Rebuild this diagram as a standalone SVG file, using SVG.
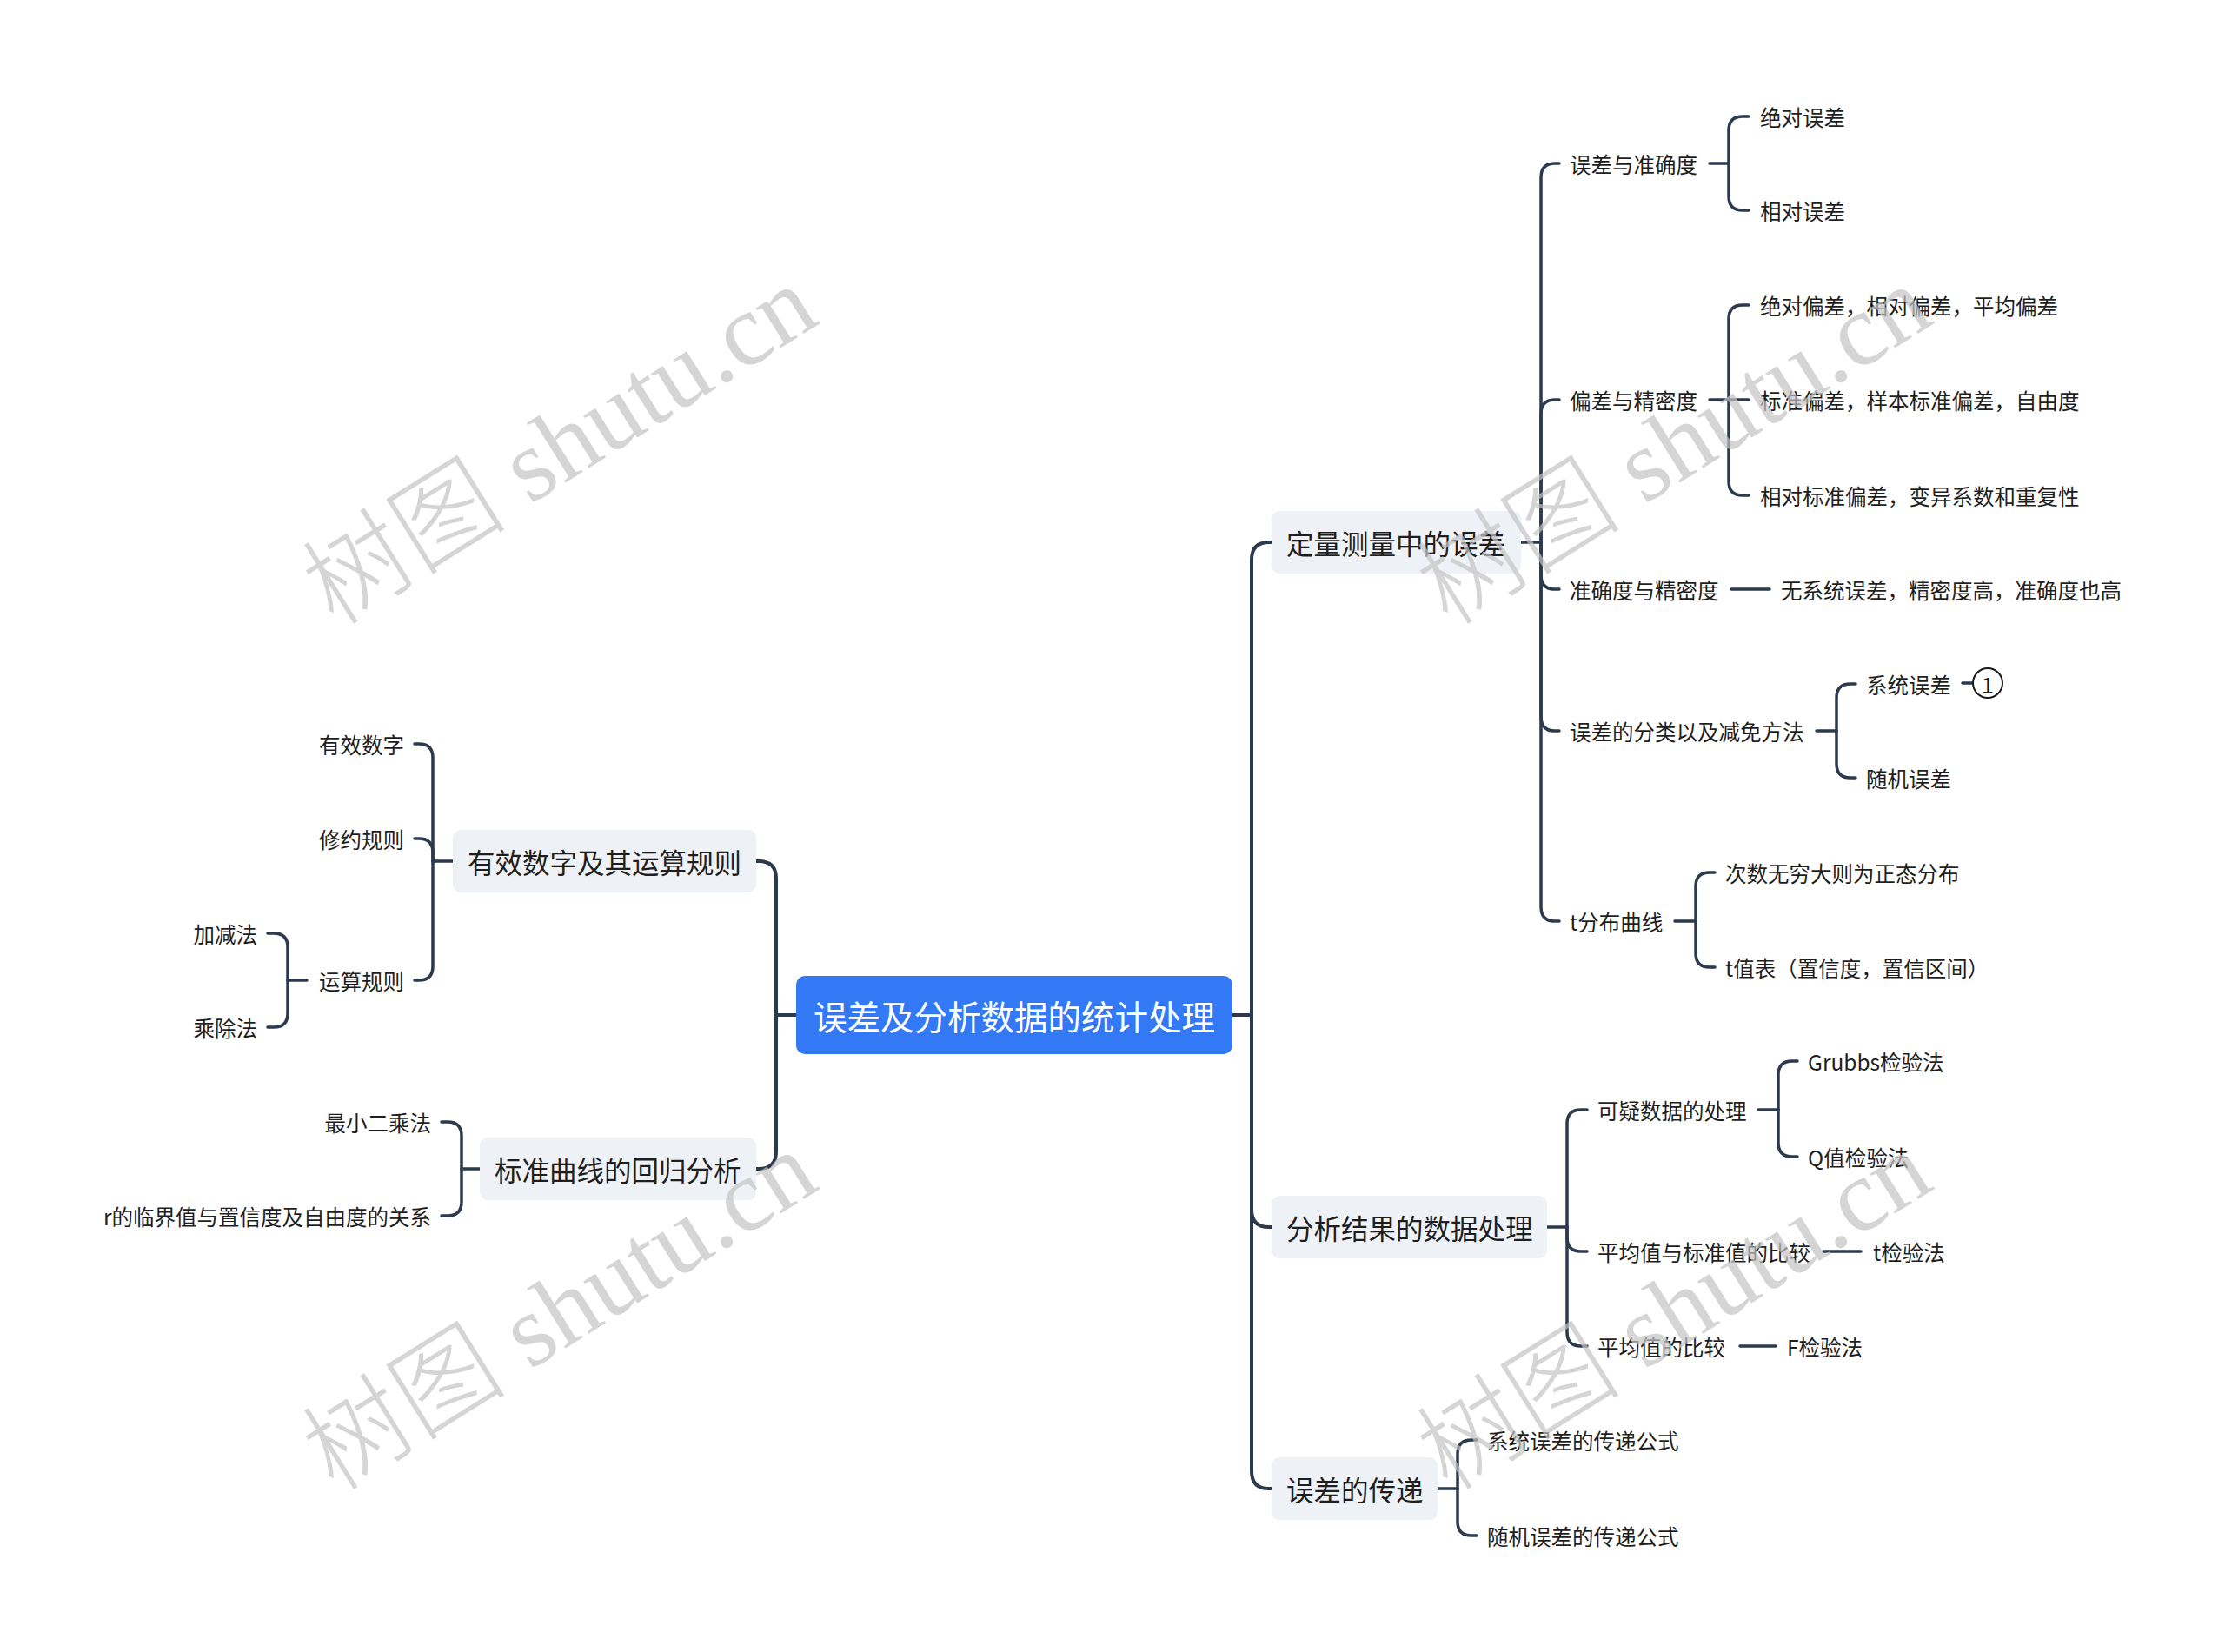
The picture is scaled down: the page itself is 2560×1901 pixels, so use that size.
<svg xmlns="http://www.w3.org/2000/svg" width="2560" height="1901" viewBox="0 0 2560 1901">
<style>
.bg{fill:#ffffff}
.root rect{fill:#3379f6}
.root text{fill:#ffffff;font-size:38.5px}
.l1 rect{fill:#eef1f5}
.l1 text{fill:#1e1e1e;font-size:31.5px}
.l2 text{fill:#1e1e1e;font-size:24.5px}
text{font-family:"Noto Sans CJK SC","Noto Sans",sans-serif;dominant-baseline:central}
.lnk path{fill:none;stroke:#2c3a4e;stroke-width:3.5;stroke-linecap:round}
.lnk .main{stroke-width:4}
.wm{font-family:"Liberation Serif","Noto Sans CJK SC",serif;font-size:118px;fill:#c4c4c4;opacity:0.7;dominant-baseline:auto;font-weight:300}
</style>
<rect class="bg" x="0" y="0" width="2560" height="1901"/>
<g id="connectors" class="lnk">
<path class="main" d="M1418,1168 H1440"/>
<path class="main" d="M1440,1168 V644 Q1440,624 1460,624 H1463"/>
<path class="main" d="M1440,1168 V1392 Q1440,1412 1460,1412 H1463"/>
<path class="main" d="M1440,1168 V1693 Q1440,1713 1460,1713 H1463"/>
<path class="main" d="M916,1168 H893"/>
<path class="main" d="M893,1168 V1011 Q893,991 873,991 H870"/>
<path class="main" d="M893,1168 V1325 Q893,1345 873,1345 H870"/>
<path d="M1750,624 H1773"/>
<path d="M1773,624 V204 Q1773,188 1789,188 H1794"/>
<path d="M1773,624 V476 Q1773,460 1789,460 H1794"/>
<path d="M1773,624 V662 Q1773,678 1789,678 H1794"/>
<path d="M1773,624 V825 Q1773,841 1789,841 H1794"/>
<path d="M1773,624 V1044 Q1773,1060 1789,1060 H1794"/>
<path d="M1967,188 H1989"/>
<path d="M1989,188 V150 Q1989,134 2005,134 H2012"/>
<path d="M1989,188 V226 Q1989,242 2005,242 H2012"/>
<path d="M1967,460 H1989"/>
<path d="M1989,460 V367 Q1989,351 2005,351 H2012"/>
<path d="M1989,460 H2012"/>
<path d="M1989,460 V554 Q1989,570 2005,570 H2012"/>
<path d="M1992,678 H2036"/>
<path d="M2090,841 H2113"/>
<path d="M2113,841 V803 Q2113,787 2129,787 H2135"/>
<path d="M2113,841 V879 Q2113,895 2129,895 H2135"/>
<path d="M2258,786 H2270"/>
<path d="M1927,1060 H1951"/>
<path d="M1951,1060 V1020 Q1951,1004 1967,1004 H1973"/>
<path d="M1951,1060 V1097 Q1951,1113 1967,1113 H1973"/>
<path d="M1780,1412 H1803"/>
<path d="M1803,1412 V1293 Q1803,1277 1819,1277 H1826"/>
<path d="M1803,1412 V1424 Q1803,1440 1819,1440 H1826"/>
<path d="M1803,1412 V1533 Q1803,1549 1819,1549 H1826"/>
<path d="M2023,1277 H2046"/>
<path d="M2046,1277 V1237 Q2046,1221 2062,1221 H2068"/>
<path d="M2046,1277 V1315 Q2046,1331 2062,1331 H2068"/>
<path d="M2098,1440 H2141"/>
<path d="M2002,1549 H2043"/>
<path d="M1654,1713 H1677"/>
<path d="M1677,1713 V1673 Q1677,1657 1693,1657 H1699"/>
<path d="M1677,1713 V1751 Q1677,1767 1693,1767 H1699"/>
<path d="M521,991 H498"/>
<path d="M498,991 V872 Q498,856 482,856 H477"/>
<path d="M498,991 V981 Q498,965 482,965 H477"/>
<path d="M498,991 V1112 Q498,1128 482,1128 H477"/>
<path d="M353,1128 H331"/>
<path d="M331,1128 V1090 Q331,1074 315,1074 H308"/>
<path d="M331,1128 V1166 Q331,1182 315,1182 H308"/>
<path d="M552,1345 H531"/>
<path d="M531,1345 V1307 Q531,1291 515,1291 H508"/>
<path d="M531,1345 V1383 Q531,1399 515,1399 H508"/>
</g>
<g id="root" class="root"><rect x="916" y="1123" width="502" height="90" rx="10"/><text x="1167" y="1168" text-anchor="middle">误差及分析数据的统计处理</text></g>
<g id="n-a" class="l1"><rect x="1463" y="588" width="287" height="72" rx="9"/><text x="1480" y="624">定量测量中的误差</text></g>
<g id="n-b" class="l1"><rect x="1463" y="1376" width="317" height="72" rx="9"/><text x="1480" y="1412">分析结果的数据处理</text></g>
<g id="n-c" class="l1"><rect x="1463" y="1677" width="191" height="72" rx="9"/><text x="1480" y="1713">误差的传递</text></g>
<g id="n-d" class="l1"><rect x="521" y="955" width="349" height="72" rx="9"/><text x="538" y="991">有效数字及其运算规则</text></g>
<g id="n-e" class="l1"><rect x="552" y="1309" width="318" height="72" rx="9"/><text x="569" y="1345">标准曲线的回归分析</text></g>
<g id="n-a1" class="l2"><text x="1806" y="188">误差与准确度</text></g>
<g id="n-a1a" class="l2"><text x="2025" y="134">绝对误差</text></g>
<g id="n-a1b" class="l2"><text x="2025" y="242">相对误差</text></g>
<g id="n-a2" class="l2"><text x="1806" y="460">偏差与精密度</text></g>
<g id="n-a2a" class="l2"><text x="2025" y="351">绝对偏差，相对偏差，平均偏差</text></g>
<g id="n-a2b" class="l2"><text x="2025" y="460">标准偏差，样本标准偏差，自由度</text></g>
<g id="n-a2c" class="l2"><text x="2025" y="570">相对标准偏差，变异系数和重复性</text></g>
<g id="n-a3" class="l2"><text x="1806" y="678">准确度与精密度</text></g>
<g id="n-a3a" class="l2"><text x="2049" y="678">无系统误差，精密度高，准确度也高</text></g>
<g id="n-a4" class="l2"><text x="1806" y="841">误差的分类以及减免方法</text></g>
<g id="n-a4a" class="l2"><text x="2147" y="787">系统误差</text></g>
<g id="n-a4a-badge"><circle cx="2287" cy="786" r="17" fill="#ffffff" stroke="#1a1a1a" stroke-width="2"/><text x="2287" y="787" text-anchor="middle" style="font-size:25px;fill:#1a1a1a">1</text></g>
<g id="n-a4b" class="l2"><text x="2147" y="895">随机误差</text></g>
<g id="n-a5" class="l2"><text x="1806" y="1060">t分布曲线</text></g>
<g id="n-a5a" class="l2"><text x="1985" y="1004">次数无穷大则为正态分布</text></g>
<g id="n-a5b" class="l2"><text x="1985" y="1113">t值表（置信度，置信区间）</text></g>
<g id="n-b1" class="l2"><text x="1838" y="1277">可疑数据的处理</text></g>
<g id="n-b1a" class="l2"><text x="2080" y="1221">Grubbs检验法</text></g>
<g id="n-b1b" class="l2"><text x="2080" y="1331">Q值检验法</text></g>
<g id="n-b2" class="l2"><text x="1838" y="1440">平均值与标准值的比较</text></g>
<g id="n-b2a" class="l2"><text x="2155" y="1440">t检验法</text></g>
<g id="n-b3" class="l2"><text x="1838" y="1549">平均值的比较</text></g>
<g id="n-b3a" class="l2"><text x="2056" y="1549">F检验法</text></g>
<g id="n-c1" class="l2"><text x="1711" y="1657">系统误差的传递公式</text></g>
<g id="n-c2" class="l2"><text x="1711" y="1767">随机误差的传递公式</text></g>
<g id="n-d1" class="l2"><text x="465" y="856" text-anchor="end">有效数字</text></g>
<g id="n-d2" class="l2"><text x="465" y="965" text-anchor="end">修约规则</text></g>
<g id="n-d3" class="l2"><text x="465" y="1128" text-anchor="end">运算规则</text></g>
<g id="n-d3a" class="l2"><text x="296" y="1074" text-anchor="end">加减法</text></g>
<g id="n-d3b" class="l2"><text x="296" y="1182" text-anchor="end">乘除法</text></g>
<g id="n-e1" class="l2"><text x="496" y="1291" text-anchor="end">最小二乘法</text></g>
<g id="n-e2" class="l2"><text x="496" y="1399" text-anchor="end">r的临界值与置信度及自由度的关系</text></g>
<g id="watermarks">
<text class="wm" transform="translate(645,514) rotate(-32)" text-anchor="middle" y="38">树图 shutu.cn</text>
<text class="wm" transform="translate(1927,514) rotate(-32)" text-anchor="middle" y="38">树图 shutu.cn</text>
<text class="wm" transform="translate(645,1510) rotate(-32)" text-anchor="middle" y="38">树图 shutu.cn</text>
<text class="wm" transform="translate(1927,1510) rotate(-32)" text-anchor="middle" y="38">树图 shutu.cn</text>
</g>
</svg>
